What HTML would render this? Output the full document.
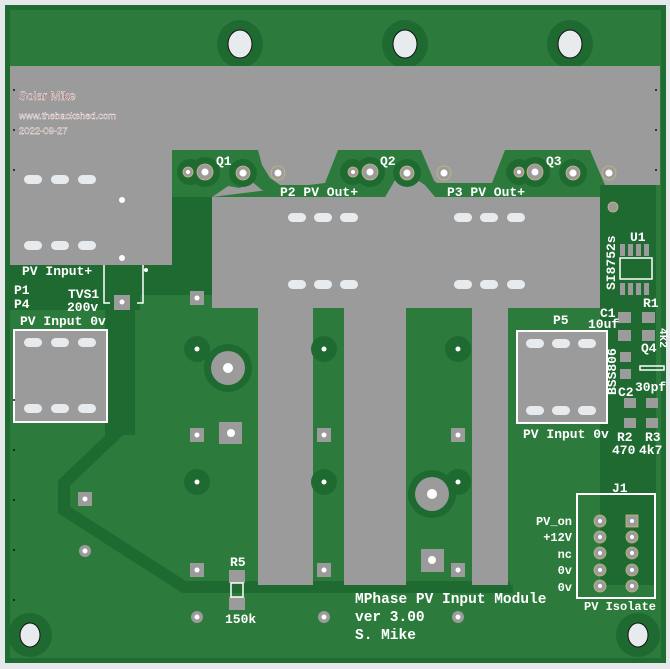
<!DOCTYPE html>
<html><head><meta charset="utf-8"><style>
html,body{margin:0;padding:0;background:#e6e9ec;}
svg{display:block}
.t{font-family:"Liberation Mono",monospace;fill:#fff;font-size:13px;font-weight:bold}
.m{font-family:"Liberation Mono",monospace;fill:#fff;font-size:14.5px;font-weight:bold}
</style></head><body>
<svg width="670" height="669" viewBox="0 0 670 669" xmlns="http://www.w3.org/2000/svg">
<rect x="0" y="0" width="670" height="669" fill="#e6e9ec"/>
<rect x="5" y="5" width="661" height="658" fill="#1f6b32"/>
<rect x="10" y="10" width="651" height="648" fill="#2c7b3c"/>
<!-- dark areas -->
<rect x="600" y="185" width="56" height="400" fill="#1f6a31"/>
<rect x="10" y="265" width="130" height="45" fill="#1f6a31"/>
<rect x="105" y="265" width="30" height="170" fill="#1f6a31"/>
<rect x="172" y="150" width="40" height="140" fill="#1f6a31"/>
<rect x="140" y="265" width="72" height="30" fill="#1f6a31"/>
<polyline points="125,425 64,483 64,510 184,587 513,587" fill="none" stroke="#1f6a31" stroke-width="12"/>
<rect x="510" y="315" width="90" height="270" fill="#2c7b3c"/>
<!-- top holes -->
<g fill="#1f6a31"><ellipse cx="240" cy="44" rx="23" ry="24"/><ellipse cx="405" cy="44" rx="23" ry="24"/><ellipse cx="570" cy="44" rx="23" ry="24"/>
<ellipse cx="30" cy="635" rx="22" ry="22"/><ellipse cx="638" cy="635" rx="22" ry="22"/></g>
<g fill="#e8ebee" stroke="#111" stroke-width="1"><ellipse cx="240" cy="44" rx="12" ry="14"/><ellipse cx="405" cy="44" rx="12" ry="14"/><ellipse cx="570" cy="44" rx="12" ry="14"/>
<ellipse cx="30" cy="635" rx="10" ry="12"/><ellipse cx="638" cy="635" rx="10" ry="12"/></g>
<!-- grey copper -->
<g fill="#9b9b9b">
<rect x="10" y="66" width="650" height="84"/>
<rect x="10" y="150" width="162" height="115"/>
<rect x="212" y="197" width="388" height="111"/>
<polygon points="228,186 250,175 258,150 338,150 325,183 212,197"/>
<polygon points="421,150 505,150 492,183 435,183"/>
<polygon points="385,197 395,180 410,175 425,185 435,197"/>
<polygon points="550,197 560,180 575,175 590,185 600,197"/>
<polygon points="590,150 660,150 660,185 605,185"/>
<rect x="258" y="308" width="55" height="277"/>
<rect x="344" y="308" width="62" height="277"/>
<rect x="472" y="308" width="36" height="277"/>
</g>
<!-- green channel around Q pads -->
<g fill="#2c7b3c">
<path d="M172,150 L258,150 L262,165 L270,178 L280,185 L330,185 L330,197 L280,197 L262,190 L250,180 L240,188 L228,186 L212,197 L172,197 Z"/>
<path d="M338,150 L421,150 L430,178 L440,185 L495,185 L495,197 L440,197 L425,185 L410,175 L395,180 L385,197 L345,197 L338,185 Z"/>
<path d="M505,150 L590,150 L600,185 L600,197 L550,197 L540,185 L520,185 L505,170 Z"/>
</g>
<g fill="#1f6a31"><circle cx="190" cy="172" r="13"/><circle cx="205" cy="172" r="15"/><circle cx="243" cy="173" r="14"/>
<circle cx="353" cy="172" r="13"/><circle cx="370" cy="172" r="15"/><circle cx="407" cy="173" r="14"/>
<circle cx="519" cy="172" r="13"/><circle cx="535" cy="172" r="15"/><circle cx="573" cy="173" r="14"/></g>
<g fill="#9b9b9b" stroke="#c9b97a" stroke-width="0.8"><circle cx="188" cy="172" r="5"/><circle cx="205" cy="172" r="8"/><circle cx="243" cy="173" r="7"/><circle cx="278" cy="173" r="7"/>
<circle cx="353" cy="172" r="5"/><circle cx="370" cy="172" r="8"/><circle cx="407" cy="173" r="7"/><circle cx="444" cy="173" r="7"/>
<circle cx="519" cy="172" r="5"/><circle cx="535" cy="172" r="8"/><circle cx="573" cy="173" r="7"/><circle cx="609" cy="173" r="7"/>
<circle cx="613" cy="207" r="5"/></g>
<g fill="#fff"><circle cx="188" cy="172" r="2"/><circle cx="205" cy="172" r="3.5"/><circle cx="243" cy="173" r="3.5"/><circle cx="278" cy="173" r="3.5"/>
<circle cx="353" cy="172" r="2"/><circle cx="370" cy="172" r="3.5"/><circle cx="407" cy="173" r="3.5"/><circle cx="444" cy="173" r="3.5"/>
<circle cx="519" cy="172" r="2"/><circle cx="535" cy="172" r="3.5"/><circle cx="573" cy="173" r="3.5"/><circle cx="609" cy="173" r="3.5"/></g>
<!-- pad boxes -->
<rect x="14" y="330" width="93" height="92" fill="#9b9b9b" stroke="#fff" stroke-width="2"/>
<rect x="517" y="331" width="90" height="92" fill="#9b9b9b" stroke="#fff" stroke-width="2"/>
<g fill="#e8ebee">
<rect x="24" y="175" width="18" height="9" rx="4.5"/><rect x="51" y="175" width="18" height="9" rx="4.5"/><rect x="78" y="175" width="18" height="9" rx="4.5"/>
<rect x="24" y="241" width="18" height="9" rx="4.5"/><rect x="51" y="241" width="18" height="9" rx="4.5"/><rect x="78" y="241" width="18" height="9" rx="4.5"/>
<rect x="24" y="338" width="18" height="9" rx="4.5"/><rect x="51" y="338" width="18" height="9" rx="4.5"/><rect x="78" y="338" width="18" height="9" rx="4.5"/>
<rect x="24" y="404" width="18" height="9" rx="4.5"/><rect x="51" y="404" width="18" height="9" rx="4.5"/><rect x="78" y="404" width="18" height="9" rx="4.5"/>
<rect x="288" y="213" width="18" height="9" rx="4.5"/><rect x="314" y="213" width="18" height="9" rx="4.5"/><rect x="340" y="213" width="18" height="9" rx="4.5"/>
<rect x="288" y="280" width="18" height="9" rx="4.5"/><rect x="314" y="280" width="18" height="9" rx="4.5"/><rect x="340" y="280" width="18" height="9" rx="4.5"/>
<rect x="454" y="213" width="18" height="9" rx="4.5"/><rect x="480" y="213" width="18" height="9" rx="4.5"/><rect x="507" y="213" width="18" height="9" rx="4.5"/>
<rect x="454" y="280" width="18" height="9" rx="4.5"/><rect x="480" y="280" width="18" height="9" rx="4.5"/><rect x="507" y="280" width="18" height="9" rx="4.5"/>
<rect x="526" y="339" width="18" height="9" rx="4.5"/><rect x="552" y="339" width="18" height="9" rx="4.5"/><rect x="578" y="339" width="18" height="9" rx="4.5"/>
<rect x="526" y="406" width="18" height="9" rx="4.5"/><rect x="552" y="406" width="18" height="9" rx="4.5"/><rect x="578" y="406" width="18" height="9" rx="4.5"/>
</g>
<!-- round pad rings -->
<g fill="#1f6a31"><circle cx="197" cy="349" r="13"/><circle cx="324" cy="349" r="13"/><circle cx="458" cy="349" r="13"/>
<circle cx="197" cy="482" r="13"/><circle cx="324" cy="482" r="13"/><circle cx="458" cy="482" r="13"/>
<circle cx="228" cy="368" r="24"/><circle cx="432" cy="494" r="24"/></g>
<g fill="#9b9b9b"><circle cx="228" cy="368" r="17"/><circle cx="432" cy="494" r="17"/>
<circle cx="85" cy="551" r="6"/><circle cx="197" cy="617" r="6"/><circle cx="324" cy="617" r="6"/><circle cx="458" cy="617" r="6"/>
<rect x="190" y="291" width="14" height="14"/><rect x="114" y="295" width="16" height="15"/><rect x="219" y="422" width="23" height="22"/>
<rect x="190" y="428" width="14" height="14"/><rect x="317" y="428" width="14" height="14"/><rect x="451" y="428" width="14" height="14"/>
<rect x="78" y="492" width="14" height="14"/><rect x="421" y="549" width="23" height="23"/><rect x="451" y="563" width="14" height="14"/>
<rect x="190" y="563" width="14" height="14"/><rect x="317" y="563" width="14" height="14"/></g>
<g fill="#fff"><circle cx="197" cy="298" r="2.5"/><circle cx="122" cy="302" r="2.5"/><circle cx="231" cy="433" r="4"/><circle cx="197" cy="435" r="2.5"/><circle cx="324" cy="435" r="2.5"/><circle cx="458" cy="435" r="2.5"/>
<circle cx="85" cy="499" r="2.5"/><circle cx="432" cy="560" r="4"/><circle cx="458" cy="570" r="2.5"/><circle cx="197" cy="570" r="2.5"/><circle cx="324" cy="570" r="2.5"/>
<circle cx="197" cy="349" r="2.5"/><circle cx="324" cy="349" r="2.5"/><circle cx="458" cy="349" r="2.5"/><circle cx="197" cy="482" r="2.5"/><circle cx="324" cy="482" r="2.5"/><circle cx="458" cy="482" r="2.5"/>
<circle cx="85" cy="551" r="2.5"/><circle cx="197" cy="617" r="2.5"/><circle cx="324" cy="617" r="2.5"/><circle cx="458" cy="617" r="2.5"/>
<circle cx="228" cy="368" r="5"/><circle cx="432" cy="494" r="5"/><circle cx="122" cy="200" r="3"/><circle cx="122" cy="258" r="3"/></g>
<!-- TVS outline -->
<path d="M104,265 V303 H110 M143,265 V303 H137" fill="none" stroke="#fff" stroke-width="1.5"/>
<circle cx="146" cy="270" r="2" fill="#fff"/>
<!-- U1 -->
<g fill="#9b9b9b"><rect x="620" y="244" width="5" height="12"/><rect x="628" y="244" width="5" height="12"/><rect x="636" y="244" width="5" height="12"/><rect x="644" y="244" width="5" height="12"/>
<rect x="620" y="283" width="5" height="12"/><rect x="628" y="283" width="5" height="12"/><rect x="636" y="283" width="5" height="12"/><rect x="644" y="283" width="5" height="12"/>
<rect x="618" y="312" width="13" height="11"/><rect x="618" y="330" width="13" height="11"/><rect x="642" y="312" width="13" height="11"/><rect x="642" y="330" width="13" height="11"/>
<rect x="620" y="352" width="11" height="10"/><rect x="620" y="369" width="11" height="10"/>
<rect x="624" y="398" width="12" height="10"/><rect x="624" y="418" width="12" height="10"/><rect x="646" y="398" width="12" height="10"/><rect x="646" y="418" width="12" height="10"/>
<rect x="229" y="570" width="16" height="13"/><rect x="229" y="597" width="16" height="13"/></g>
<rect x="620" y="258" width="32" height="21" fill="none" stroke="#fff" stroke-width="1.5"/>
<rect x="640" y="366" width="24" height="4" fill="none" stroke="#fff" stroke-width="1.5"/>
<rect x="231" y="583" width="12" height="14" fill="none" stroke="#fff" stroke-width="1.5"/>
<!-- J1 -->
<rect x="577" y="494" width="78" height="104" fill="none" stroke="#fff" stroke-width="2"/>
<g fill="#9b9b9b" stroke="#c9b97a" stroke-width="0.8"><circle cx="600" cy="521" r="6"/><circle cx="600" cy="537" r="6"/><circle cx="600" cy="553" r="6"/><circle cx="600" cy="570" r="6"/><circle cx="600" cy="586" r="6"/>
<rect x="626" y="515" width="12" height="12"/><circle cx="632" cy="537" r="6"/><circle cx="632" cy="553" r="6"/><circle cx="632" cy="570" r="6"/><circle cx="632" cy="586" r="6"/></g>
<g fill="#fff"><circle cx="600" cy="521" r="2"/><circle cx="600" cy="537" r="2"/><circle cx="600" cy="553" r="2"/><circle cx="600" cy="570" r="2"/><circle cx="600" cy="586" r="2"/>
<circle cx="632" cy="521" r="2"/><circle cx="632" cy="537" r="2"/><circle cx="632" cy="553" r="2"/><circle cx="632" cy="570" r="2"/><circle cx="632" cy="586" r="2"/></g>
<!-- text -->
<g font-family="Liberation Sans, sans-serif" fill="#8a3b3b" stroke="#fff" stroke-width="0.4">
<text x="19" y="100" font-size="12">Solar Mike</text>
<text x="19" y="119" font-size="9.5">www.thebackshed.com</text>
<text x="19" y="134" font-size="9.5">2022-09-27</text></g>
<g class="t">
<text x="216" y="165">Q1</text><text x="380" y="165">Q2</text><text x="546" y="165">Q3</text>
<text x="280" y="196">P2 PV Out+</text><text x="447" y="196">P3 PV Out+</text>
<text x="22" y="275">PV Input+</text>
<text x="14" y="294">P1</text><text x="14" y="308">P4</text>
<text x="68" y="298">TVS1</text><text x="67" y="311">200v</text>
<text x="20" y="325">PV Input 0v</text>
<text x="553" y="324">P5</text>
<text x="600" y="317">C1</text><text x="588" y="328">10uf</text>
<text x="643" y="307">R1</text><text x="630" y="241">U1</text>
<text x="641" y="352">Q4</text><text x="635" y="391">30pf</text><text x="618" y="396">C2</text>
<text x="523" y="438">PV Input 0v</text>
<text x="617" y="441">R2</text><text x="612" y="454">470</text><text x="645" y="441">R3</text><text x="639" y="454">4k7</text>
<text x="612" y="492">J1</text>
<text x="572" y="525" text-anchor="end" font-size="12">PV_on</text><text x="572" y="541" text-anchor="end" font-size="12">+12V</text>
<text x="572" y="558" text-anchor="end" font-size="12">nc</text><text x="572" y="574" text-anchor="end" font-size="12">0v</text><text x="572" y="591" text-anchor="end" font-size="12">0v</text>
<text x="584" y="610" font-size="12">PV Isolate</text>
<text x="230" y="566">R5</text><text x="225" y="623">150k</text>
<text x="615" y="290" transform="rotate(-90 615 290)">SI8752s</text>
<text x="616" y="395" transform="rotate(-90 616 395)">BSS806</text>
<text x="660" y="328" transform="rotate(90 660 328)" font-size="11">4k2</text>
</g>
<g class="m"><text x="355" y="603">MPhase PV Input Module</text><text x="355" y="621">ver 3.00</text><text x="355" y="639">S. Mike</text></g>
<!-- border dots -->
<g fill="#111">
<circle cx="14" cy="90" r="1"/><circle cx="14" cy="130" r="1"/><circle cx="14" cy="170" r="1"/><circle cx="14" cy="400" r="1"/><circle cx="14" cy="450" r="1"/><circle cx="14" cy="500" r="1"/><circle cx="14" cy="550" r="1"/><circle cx="14" cy="600" r="1"/>
<circle cx="656" cy="90" r="1"/><circle cx="656" cy="130" r="1"/><circle cx="656" cy="170" r="1"/>
</g>
</svg>
</body></html>
